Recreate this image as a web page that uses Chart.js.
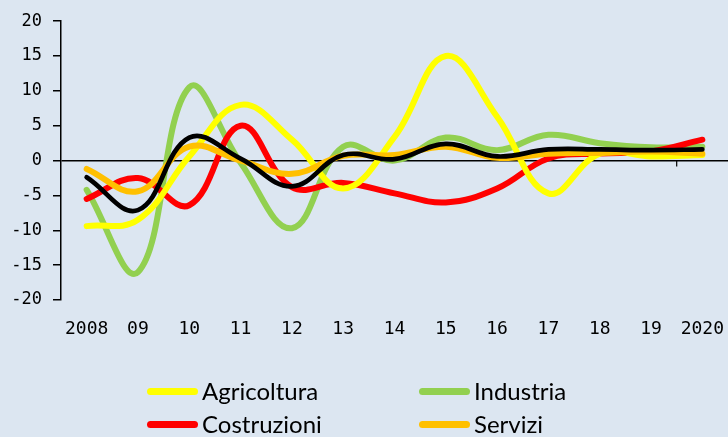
<!DOCTYPE html>
<html><head><meta charset="utf-8">
<script src="https://cdn.jsdelivr.net/npm/chart.js@4.4.1/dist/chart.umd.min.js"></script>
<style>
html,body{margin:0;padding:0;background:#dce6f1;}
#wrap{position:relative;width:728px;height:437px;overflow:hidden;background:#dce6f1;}
canvas{position:absolute;left:0;top:0;}
#legend{position:absolute;left:0;top:0;width:728px;height:437px;pointer-events:none;font-family:Lato,'Open Sans',sans-serif;font-size:24px;color:#000;}
.item{position:absolute;display:flex;align-items:center;white-space:nowrap;height:30px;line-height:30px;}
.swatch{width:51px;height:7px;border-radius:4px;margin-right:4px;}
</style></head>
<body><div id="wrap"><canvas id="c" width="728" height="437"></canvas><div id="legend"></div></div>
<script>
const categories = ['2008','09','10','11','12','13','14','15','16','17','18','19','2020'];
const agricoltura = [-9.4, -8.5, 0.6, 8.0, 3.0, -4.0, 3.4, 15.0, 6.3, -4.7, 1.0, 0.6, 0.8];
const industria   = [-4.2, -16.0, 10.5, -0.3, -9.7, 2.0, 0.0, 3.3, 1.5, 3.7, 2.5, 1.9, 2.0];
const costruzioni = [-5.5, -2.5, -6.4, 5.0, -3.8, -3.2, -4.7, -6.0, -4.0, 0.3, 1.0, 1.3, 3.0];
const servizi     = [-1.2, -4.4, 2.0, 0.0, -1.9, 0.7, 0.8, 2.0, 0.4, 1.0, 1.1, 1.3, 1.0];
const totale      = [-2.4, -7.1, 3.3, 0.3, -3.7, 0.8, 0.2, 2.4, 0.6, 1.6, 1.6, 1.5, 1.6];
const yTicks = [-20, -15, -10, -5, 0, 5, 10, 15, 20];

const seriesNames = ['Agricoltura', 'Industria', 'Costruzioni', 'Servizi', 'Totale'];
const seriesData = [agricoltura, industria, costruzioni, servizi, totale];
const seriesColors = ['#ffff00', '#92d050', '#ff0000', '#ffc000', '#000000'];
const seriesWidths = [6, 6, 6, 6, 4.7];
const seriesOrder = [2, 4, 3, 1, 0];
const legendShown = [true, true, true, true, false];

const datasets = seriesNames.map((n, i) => ({
  label: n,
  data: seriesData[i],
  borderColor: seriesColors[i],
  backgroundColor: seriesColors[i],
  borderWidth: seriesWidths[i],
  pointRadius: 0,
  tension: 0.4,
  fill: false,
  borderCapStyle: 'round',
  borderJoinStyle: 'round',
  order: seriesOrder[i]
}));

const extraTick = {
  id: 'extraTick',
  afterDraw(chart) {
    const x = chart.scales.x, y = chart.scales.y;
    const px = (x.getPixelForValue(11) + x.getPixelForValue(12)) / 2;
    const py = y.getPixelForValue(0);
    const c = chart.ctx;
    c.save();
    c.strokeStyle = '#000';
    c.lineWidth = 1.2;
    c.beginPath();
    c.moveTo(px, py);
    c.lineTo(px, py + 6);
    c.stroke();
    c.restore();
  }
};

new Chart(document.getElementById('c'), {
  type: 'line',
  data: { labels: categories, datasets },
  plugins: [extraTick],
  options: {
    responsive: false,
    animation: false,
    devicePixelRatio: 1,
    layout: { padding: { top: 21, right: 0, left: 0, bottom: 0 } },
    plugins: { legend: { display: false }, tooltip: { enabled: false } },
    scales: {
      x: {
        offset: true,
        grid: { display: false, drawTicks: false },
        border: { display: false },
        ticks: { color: '#000', font: { family: "'DejaVu Sans Mono', monospace", size: 18 }, padding: 19, maxRotation: 0, autoSkip: false },
        afterFit(s) { s.height = 137; s.paddingLeft = 0; s.paddingRight = 0; }
      },
      y: {
        min: -20, max: 20,
        afterBuildTicks(s) { s.ticks = yTicks.map(v => ({ value: v })); },
        ticks: { color: '#000', font: { family: "'DejaVu Sans Mono', monospace", size: 17 }, padding: 11 },
        grid: {
          color: ctx => (ctx.tick && ctx.tick.value === 0) ? '#000' : 'rgba(0,0,0,0)',
          lineWidth: 1.5,
          drawTicks: true,
          tickLength: 8,
          tickColor: '#000',
          tickWidth: 1.5
        },
        border: { display: true, color: '#000', width: 1.5 },
        afterFit(s) { s.width = 61; }
      }
    }
  }
});

const legend = document.getElementById('legend');
const legendPos = [[147, 376], [419, 376], [147, 409], [419, 409]];
let k = 0;
seriesNames.forEach((n, i) => {
  if (!legendShown[i]) return;
  const p = legendPos[k++];
  const d = document.createElement('div');
  d.className = 'item';
  d.style.left = p[0] + 'px';
  d.style.top = p[1] + 'px';
  const sw = document.createElement('span');
  sw.className = 'swatch';
  sw.style.background = seriesColors[i];
  const t = document.createElement('span');
  t.textContent = n;
  d.appendChild(sw); d.appendChild(t);
  legend.appendChild(d);
});
</script>
</body></html>
